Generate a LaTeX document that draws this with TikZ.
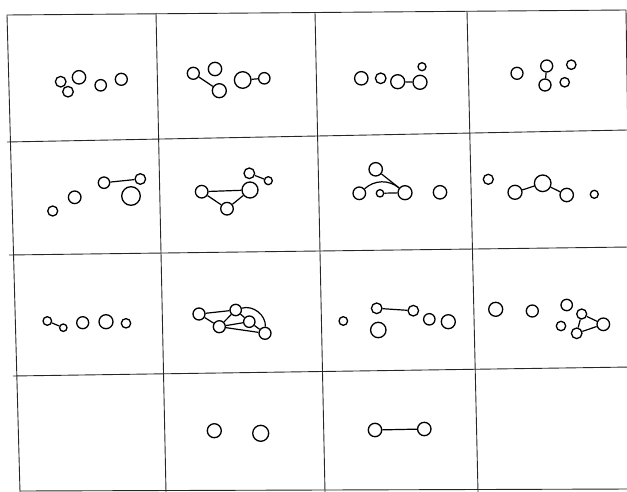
\documentclass[tikz,border=0pt]{standalone}
\usepackage{tikz}
\usetikzlibrary{positioning}

\begin{document}
\begin{tikzpicture}[
    x=1pt, y=-1pt,
    knot/.style={circle, draw, line width=1.3pt, inner sep=0pt, minimum size=#1},
    knot/.default=12pt,
    link/.style={line width=1.2pt},
    rule/.style={line width=0.9pt, black!85}
]
\useasboundingbox (0,0) rectangle (627,492);

% Raster (leicht schief gescannt)
\draw[rule] (7,15) -- (626,10);
\draw[rule] (7,142) -- (628,130);
\draw[rule] (9,255) -- (630,247);
\draw[rule] (13,376) -- (631,367);
\draw[rule] (20,491) -- (633,489);
\draw[rule] (7,15) -- (20,492);
\draw[rule] (156,13) -- (166,492);
\draw[rule] (315,12) -- (325,492);
\draw[rule] (467,11) -- (478,492);
\draw[rule] (626,10) -- (633,492);

% Zeile 1
\node[knot=10.6pt] (k1a) at (60.7,81.7) {};
\node[knot=10.6pt] (k1b) at (68,91.7) {};
\node[knot=13.4pt] (k1c) at (79,77.3) {};
\node[knot=11.4pt] (k1d) at (100.7,85.3) {};
\node[knot=12pt]   (k1e) at (121.3,79.3) {};

\node[knot=12pt]   (k2a) at (193.3,73.3) {};
\node[knot=13.4pt] (k2b) at (215,69) {};
\node[knot=14pt]   (k2c) at (219.3,90.7) {};
\node[knot=16.6pt] (k2d) at (242.7,80) {};
\node[knot=11.4pt] (k2e) at (264.3,78.3) {};
\draw[link] (k2a) -- (k2c);
\draw[link] (k2d) -- (k2e);

\node[knot=13.4pt] (k3a) at (361.3,78.3) {};
\node[knot=10.6pt] (k3b) at (380.7,78.3) {};
\node[knot=14pt]   (k3c) at (397.7,81.7) {};
\node[knot=14pt]   (k3d) at (420,82.3) {};
\node[knot=8pt]    (k3e) at (422,66.7) {};
\draw[link] (k3c) -- (k3d);

\node[knot=12pt]   (k4a) at (517,73.3) {};
\node[knot=12pt]   (k4b) at (546.7,66) {};
\node[knot=12pt]   (k4c) at (545,85) {};
\node[knot=9.4pt]  (k4d) at (571.3,64.7) {};
\node[knot=9.4pt]  (k4e) at (564.7,82.3) {};
\draw[link] (k4b) -- (k4c);

% Zeile 2
\node[knot=10pt]   (k5a) at (52.7,211) {};
\node[knot=12.6pt] (k5b) at (74.7,197.3) {};
\node[knot=11.4pt] (k5c) at (104,182.7) {};
\node[knot=10.6pt] (k5d) at (140.3,179) {};
\node[knot=18.6pt] (k5e) at (131,196) {};
\draw[link] (k5c) -- (k5d);

\node[knot=12.6pt] (k6a) at (201.7,191.7) {};
\node[knot=12.6pt] (k6b) at (227,208.7) {};
\node[knot=16pt]   (k6c) at (250,190) {};
\node[knot=10.6pt] (k6d) at (249.3,173.3) {};
\node[knot=8pt]    (k6e) at (268.3,180.7) {};
\draw[link] (k6a) -- (k6c);
\draw[link] (k6a) -- (k6b);
\draw[link] (k6b) -- (k6c);
\draw[link] (k6d) -- (k6e);

\node[knot=13.4pt] (k7a) at (375.7,169.3) {};
\node[knot=12.6pt] (k7b) at (359.3,193.3) {};
\node[knot=7.4pt]  (k7c) at (380,193.3) {};
\node[knot=14pt]   (k7d) at (405,192.7) {};
\node[knot=13.4pt] (k7e) at (440,192.3) {};
\draw[link] (k7a) -- (k7d);
\draw[link] (k7c) -- (k7d);
\draw[link] (k7b) to[bend left=40] (k7d);

\node[knot=10pt]   (k8a) at (488.3,179.3) {};
\node[knot=14pt]   (k8b) at (515,192.3) {};
\node[knot=16.6pt] (k8c) at (542.7,183.3) {};
\node[knot=13.4pt] (k8d) at (566.7,195) {};
\node[knot=8pt]    (k8e) at (594.3,194.3) {};
\draw[link] (k8b) -- (k8c);
\draw[link] (k8c) -- (k8d);

% Zeile 3
\node[knot=8.6pt]  (k9a) at (47.3,321) {};
\node[knot=7.4pt]  (k9b) at (63.3,327.7) {};
\node[knot=12pt]   (k9c) at (82.7,322.7) {};
\node[knot=14pt]   (k9d) at (106,321.7) {};
\node[knot=9.4pt]  (k9e) at (126,323.3) {};
\draw[link] (k9a) -- (k9b);

\node[knot=12pt]   (k10a) at (199,314) {};
\node[knot=11.4pt] (k10b) at (235.7,310) {};
\node[knot=11.4pt] (k10c) at (249.3,321.7) {};
\node[knot=12pt]   (k10d) at (219.3,326.7) {};
\node[knot=12pt]   (k10e) at (265,333.3) {};
\draw[link] (k10a) -- (k10b);
\draw[link] (k10a) -- (k10d);
\draw[link] (k10b) -- (k10d);
\draw[link] (k10b) -- (k10c);
\draw[link] (k10d) -- (k10c);
\draw[link] (k10d) -- (k10e);
\draw[link] (k10c) -- (k10e);
\draw[link] (k10b) to[bend left=55] (k10e);

\node[knot=8.6pt]  (k11a) at (343.3,321) {};
\node[knot=10.6pt] (k11b) at (376.7,308.3) {};
\node[knot=10.6pt] (k11c) at (413.3,310.7) {};
\node[knot=15.4pt] (k11d) at (378.3,330) {};
\node[knot=11.4pt] (k11e) at (429.3,319.3) {};
\node[knot=14pt]   (k11f) at (448.3,321.7) {};
\draw[link] (k11b) -- (k11c);

\node[knot=14pt]   (k12a) at (495.7,309.3) {};
\node[knot=12pt]   (k12b) at (532.3,311) {};
\node[knot=11.4pt] (k12c) at (566.7,305) {};
\node[knot=10pt]   (k12d) at (581.7,314) {};
\node[knot=12.6pt] (k12e) at (603.3,324.3) {};
\node[knot=10.6pt] (k12f) at (576.7,333.3) {};
\node[knot=9.4pt]  (k12g) at (561,326) {};
\draw[link] (k12d) -- (k12e);
\draw[link] (k12d) -- (k12f);
\draw[link] (k12f) -- (k12e);

% Zeile 4 (erstes und letztes Feld leer)
\node[knot=14pt]   (k14a) at (214.3,430.7) {};
\node[knot=16pt]   (k14b) at (260.7,433.3) {};

\node[knot=13.4pt] (k15a) at (375,430) {};
\node[knot=13.4pt] (k15b) at (424.3,429) {};
\draw[link] (k15a) -- (k15b);

\end{tikzpicture}
\end{document}
